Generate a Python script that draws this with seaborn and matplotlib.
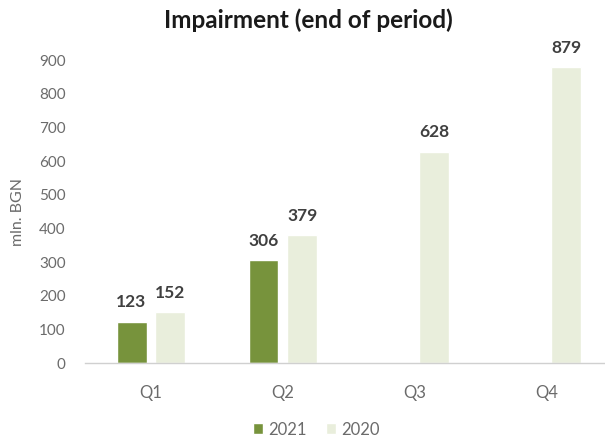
import matplotlib
matplotlib.use("Agg")
import matplotlib.pyplot as plt
import seaborn as sns
import pandas as pd

# Quarterly impairment balances, mln. BGN
quarters = ["Q1", "Q2", "Q3", "Q4"]
years = ["2021", "2020"]
values_2021 = [123, 306, None, None]
values_2020 = [152, 379, 628, 879]
colors = {"2021": "#77933C", "2020": "#E9EEDC"}

rows = []
for q, v in zip(quarters, values_2021):
    if v is not None:
        rows.append({"quarter": q, "year": "2021", "value": v})
for q, v in zip(quarters, values_2020):
    rows.append({"quarter": q, "year": "2020", "value": v})
df = pd.DataFrame(rows)

sns.set_theme(style="white")
plt.rcParams["font.family"] = ["Lato", "DejaVu Sans"]

fig = plt.figure(figsize=(6.05, 4.37), dpi=100)
ax = fig.add_axes([0.1405, 0.1693, 0.8595, 0.6934])

sns.barplot(data=df, x="quarter", y="value", hue="year", order=quarters,
            hue_order=years, palette=colors, width=0.59, gap=0.23,
            saturation=1, ax=ax, legend=True)

for container in ax.containers:
    labels = [f"{v:.0f}" for v in container.datavalues]
    ax.bar_label(container, labels=labels, padding=8, fontsize=12.5,
                 fontweight="bold", color="#404040", clip_on=False)

ax.set_ylim(0, 900)
ax.set_xlim(-0.5, 3.44)
ax.set_yticks(range(0, 1000, 100))
ax.tick_params(axis="y", labelsize=11, labelcolor="#6B6B6B", length=0, pad=14)
ax.tick_params(axis="x", labelsize=12, labelcolor="#6B6B6B", length=0, pad=16)
ax.set_xlabel("")
ax.set_ylabel("mln. BGN", fontsize=11.5, color="#6B6B6B", labelpad=10)

for side in ["top", "right", "left"]:
    ax.spines[side].set_visible(False)
ax.spines["bottom"].set_color("#D0D0D0")
ax.spines["bottom"].set_linewidth(1)

fig.suptitle("Impairment (end of period)", x=0.51, y=0.98, fontsize=17.5,
             fontweight="bold", color="#1A1A1A")

handles, lbls = ax.get_legend_handles_labels()
ax.legend(handles, lbls, loc="center", bbox_to_anchor=(0.523, 0.017),
          bbox_transform=fig.transFigure, ncol=2, frameon=False,
          fontsize=12, labelcolor="#6B6B6B", handlelength=0.6,
          handleheight=0.6, handletextpad=0.3, columnspacing=1.2)

fig.savefig("out.png", dpi=100)
